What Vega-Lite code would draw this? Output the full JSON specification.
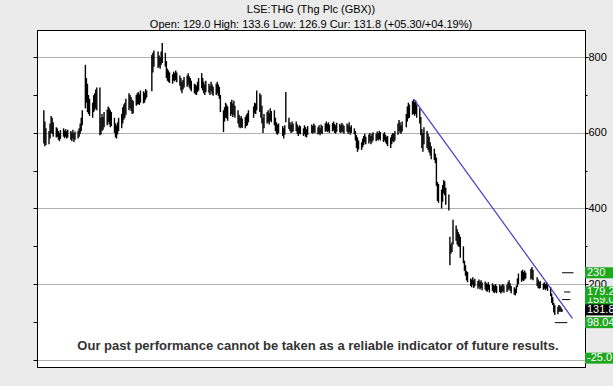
{
"$schema": "https://vega.github.io/schema/vega-lite/v6.json",
"width": 548, "height": 337,
"autosize": {"type": "none"},
"padding": {"left": 37, "top": 30, "right": 28, "bottom": 19},
"background": "#ebebeb",
"config": {"view": {"stroke": "#000", "fill": "#fff", "strokeWidth": 1}, "font": "Liberation Sans"},
"title": {"text": "LSE:THG (Thg Plc (GBX))", "subtitle": "Open: 129.0 High: 133.6 Low: 126.9 Cur: 131.8 (+05.30/+04.19%)", "font": "Liberation Sans", "fontSize": 11, "fontWeight": "normal", "color": "#000", "subtitleFont": "Liberation Sans", "subtitleFontSize": 11, "subtitleColor": "#000", "anchor": "middle", "offset": 0, "subtitlePadding": 4},
"datasets": {
"bars": [
{"d":"2020-09-16","h":660,"l":572},{"d":"2020-09-17","h":630,"l":565},{"d":"2020-09-18","h":612,"l":568},
{"d":"2020-09-21","h":605,"l":570},{"d":"2020-09-22","h":625,"l":585},{"d":"2020-09-23","h":645,"l":600},{"d":"2020-09-24","h":640,"l":598},{"d":"2020-09-25","h":628,"l":590},
{"d":"2020-09-28","h":615,"l":588},{"d":"2020-09-29","h":612,"l":590},{"d":"2020-09-30","h":605,"l":582},{"d":"2020-10-01","h":600,"l":578},{"d":"2020-10-02","h":608,"l":584},
{"d":"2020-10-05","h":612,"l":590},{"d":"2020-10-06","h":606,"l":586},{"d":"2020-10-07","h":610,"l":590},{"d":"2020-10-08","h":604,"l":585},{"d":"2020-10-09","h":608,"l":588},
{"d":"2020-10-12","h":605,"l":582},{"d":"2020-10-13","h":602,"l":578},{"d":"2020-10-14","h":608,"l":585},{"d":"2020-10-15","h":600,"l":576},{"d":"2020-10-16","h":604,"l":582},
{"d":"2020-10-19","h":606,"l":585},{"d":"2020-10-20","h":612,"l":590},{"d":"2020-10-21","h":625,"l":598},{"d":"2020-10-22","h":640,"l":605},{"d":"2020-10-23","h":660,"l":620},
{"d":"2020-10-26","h":780,"l":665},{"d":"2020-10-27","h":745,"l":680},{"d":"2020-10-28","h":730,"l":655},{"d":"2020-10-29","h":700,"l":650},{"d":"2020-10-30","h":690,"l":645},
{"d":"2020-11-02","h":680,"l":640},{"d":"2020-11-03","h":700,"l":655},{"d":"2020-11-04","h":705,"l":660},{"d":"2020-11-05","h":715,"l":665},{"d":"2020-11-06","h":720,"l":660},
{"d":"2020-11-09","h":720,"l":594},{"d":"2020-11-10","h":640,"l":596},{"d":"2020-11-11","h":650,"l":605},{"d":"2020-11-12","h":642,"l":608},{"d":"2020-11-13","h":655,"l":615},
{"d":"2020-11-16","h":662,"l":620},{"d":"2020-11-17","h":670,"l":628},{"d":"2020-11-18","h":665,"l":622},{"d":"2020-11-19","h":660,"l":615},{"d":"2020-11-20","h":655,"l":618},
{"d":"2020-11-23","h":640,"l":600},{"d":"2020-11-24","h":625,"l":588},{"d":"2020-11-25","h":620,"l":585},{"d":"2020-11-26","h":628,"l":596},{"d":"2020-11-27","h":640,"l":605},
{"d":"2020-11-30","h":650,"l":612},{"d":"2020-12-01","h":668,"l":625},{"d":"2020-12-02","h":675,"l":635},{"d":"2020-12-03","h":680,"l":640},{"d":"2020-12-04","h":690,"l":648},
{"d":"2020-12-07","h":705,"l":660},{"d":"2020-12-08","h":700,"l":665},{"d":"2020-12-09","h":695,"l":658},{"d":"2020-12-10","h":688,"l":650},{"d":"2020-12-11","h":685,"l":652},
{"d":"2020-12-14","h":700,"l":672},{"d":"2020-12-15","h":705,"l":675},{"d":"2020-12-16","h":708,"l":676},{"d":"2020-12-17","h":702,"l":674},{"d":"2020-12-18","h":712,"l":680},
{"d":"2020-12-21","h":710,"l":678},{"d":"2020-12-22","h":706,"l":680},{"d":"2020-12-23","h":716,"l":688},{"d":"2020-12-24","h":712,"l":694},
{"d":"2020-12-29","h":806,"l":710},{"d":"2020-12-30","h":812,"l":760},{"d":"2020-12-31","h":818,"l":775},
{"d":"2021-01-04","h":815,"l":772},{"d":"2021-01-05","h":805,"l":775},{"d":"2021-01-06","h":800,"l":770},{"d":"2021-01-07","h":815,"l":780},{"d":"2021-01-08","h":838,"l":785},
{"d":"2021-01-11","h":812,"l":775},{"d":"2021-01-12","h":790,"l":745},{"d":"2021-01-13","h":770,"l":738},{"d":"2021-01-14","h":765,"l":735},{"d":"2021-01-15","h":760,"l":732},
{"d":"2021-01-18","h":755,"l":730},{"d":"2021-01-19","h":762,"l":738},{"d":"2021-01-20","h":758,"l":736},{"d":"2021-01-21","h":765,"l":740},{"d":"2021-01-22","h":760,"l":734},
{"d":"2021-01-25","h":752,"l":725},{"d":"2021-01-26","h":745,"l":712},{"d":"2021-01-27","h":735,"l":705},{"d":"2021-01-28","h":740,"l":715},{"d":"2021-01-29","h":748,"l":720},
{"d":"2021-02-01","h":752,"l":722},{"d":"2021-02-02","h":758,"l":728},{"d":"2021-02-03","h":750,"l":720},{"d":"2021-02-04","h":745,"l":715},{"d":"2021-02-05","h":738,"l":710},
{"d":"2021-02-08","h":730,"l":705},{"d":"2021-02-09","h":728,"l":702},{"d":"2021-02-10","h":725,"l":700},{"d":"2021-02-11","h":735,"l":708},{"d":"2021-02-12","h":745,"l":712},
{"d":"2021-02-15","h":758,"l":718},{"d":"2021-02-16","h":745,"l":712},{"d":"2021-02-17","h":735,"l":705},{"d":"2021-02-18","h":728,"l":700},{"d":"2021-02-19","h":738,"l":708},
{"d":"2021-02-22","h":730,"l":706},{"d":"2021-02-23","h":724,"l":700},{"d":"2021-02-24","h":735,"l":710},{"d":"2021-02-25","h":728,"l":702},{"d":"2021-02-26","h":722,"l":698},
{"d":"2021-03-01","h":730,"l":700},{"d":"2021-03-02","h":735,"l":705},{"d":"2021-03-03","h":728,"l":698},{"d":"2021-03-04","h":722,"l":690},{"d":"2021-03-05","h":700,"l":655},
{"d":"2021-03-08","h":660,"l":602},{"d":"2021-03-09","h":668,"l":630},{"d":"2021-03-10","h":680,"l":640},{"d":"2021-03-11","h":675,"l":638},{"d":"2021-03-12","h":670,"l":632},
{"d":"2021-03-15","h":682,"l":645},{"d":"2021-03-16","h":688,"l":650},{"d":"2021-03-17","h":678,"l":642},{"d":"2021-03-18","h":685,"l":648},{"d":"2021-03-19","h":672,"l":640},
{"d":"2021-03-22","h":660,"l":625},{"d":"2021-03-23","h":648,"l":615},{"d":"2021-03-24","h":640,"l":612},{"d":"2021-03-25","h":645,"l":615},{"d":"2021-03-26","h":638,"l":613},
{"d":"2021-03-29","h":642,"l":612},{"d":"2021-03-30","h":648,"l":618},{"d":"2021-03-31","h":652,"l":620},{"d":"2021-04-01","h":660,"l":628},
{"d":"2021-04-06","h":670,"l":640},{"d":"2021-04-07","h":680,"l":652},{"d":"2021-04-08","h":678,"l":650},{"d":"2021-04-09","h":712,"l":660},
{"d":"2021-04-12","h":705,"l":655},{"d":"2021-04-13","h":700,"l":640},{"d":"2021-04-14","h":672,"l":625},{"d":"2021-04-15","h":640,"l":600},{"d":"2021-04-16","h":650,"l":612},
{"d":"2021-04-19","h":655,"l":625},{"d":"2021-04-20","h":660,"l":628},{"d":"2021-04-21","h":652,"l":622},{"d":"2021-04-22","h":665,"l":632},{"d":"2021-04-23","h":658,"l":628},
{"d":"2021-04-26","h":660,"l":620},{"d":"2021-04-27","h":640,"l":605},{"d":"2021-04-28","h":628,"l":598},{"d":"2021-04-29","h":622,"l":595},{"d":"2021-04-30","h":625,"l":600},
{"d":"2021-05-04","h":618,"l":592},{"d":"2021-05-05","h":612,"l":585},{"d":"2021-05-06","h":620,"l":595},{"d":"2021-05-07","h":708,"l":628},
{"d":"2021-05-10","h":640,"l":610},{"d":"2021-05-11","h":628,"l":605},{"d":"2021-05-12","h":622,"l":600},{"d":"2021-05-13","h":630,"l":602},{"d":"2021-05-14","h":625,"l":604},
{"d":"2021-05-17","h":630,"l":605},{"d":"2021-05-18","h":622,"l":598},{"d":"2021-05-19","h":615,"l":592},{"d":"2021-05-20","h":620,"l":598},{"d":"2021-05-21","h":618,"l":596},
{"d":"2021-05-24","h":612,"l":592},{"d":"2021-05-25","h":620,"l":596},{"d":"2021-05-26","h":615,"l":590},{"d":"2021-05-27","h":610,"l":588},{"d":"2021-05-28","h":618,"l":595},
{"d":"2021-06-01","h":622,"l":600},{"d":"2021-06-02","h":618,"l":598},{"d":"2021-06-03","h":625,"l":602},{"d":"2021-06-04","h":620,"l":600},
{"d":"2021-06-07","h":615,"l":596},{"d":"2021-06-08","h":620,"l":598},{"d":"2021-06-09","h":612,"l":594},{"d":"2021-06-10","h":622,"l":600},{"d":"2021-06-11","h":618,"l":597},
{"d":"2021-06-14","h":625,"l":603},{"d":"2021-06-15","h":630,"l":606},{"d":"2021-06-16","h":624,"l":602},{"d":"2021-06-17","h":628,"l":604},{"d":"2021-06-18","h":622,"l":600},
{"d":"2021-06-21","h":626,"l":604},{"d":"2021-06-22","h":630,"l":606},{"d":"2021-06-23","h":624,"l":600},{"d":"2021-06-24","h":620,"l":598},{"d":"2021-06-25","h":627,"l":603},
{"d":"2021-06-28","h":624,"l":602},{"d":"2021-06-29","h":620,"l":600},{"d":"2021-06-30","h":626,"l":604},{"d":"2021-07-01","h":622,"l":601},{"d":"2021-07-02","h":618,"l":598},
{"d":"2021-07-05","h":625,"l":603},{"d":"2021-07-06","h":620,"l":598},{"d":"2021-07-07","h":628,"l":602},{"d":"2021-07-08","h":615,"l":595},{"d":"2021-07-09","h":620,"l":600},
{"d":"2021-07-12","h":612,"l":596},{"d":"2021-07-13","h":605,"l":580},{"d":"2021-07-14","h":594,"l":560},{"d":"2021-07-15","h":588,"l":550},{"d":"2021-07-16","h":580,"l":556},
{"d":"2021-07-19","h":575,"l":555},{"d":"2021-07-20","h":585,"l":562},{"d":"2021-07-21","h":592,"l":568},{"d":"2021-07-22","h":598,"l":575},{"d":"2021-07-23","h":590,"l":570},
{"d":"2021-07-26","h":596,"l":572},{"d":"2021-07-27","h":600,"l":578},{"d":"2021-07-28","h":592,"l":570},{"d":"2021-07-29","h":598,"l":575},{"d":"2021-07-30","h":602,"l":580},
{"d":"2021-08-02","h":598,"l":578},{"d":"2021-08-03","h":604,"l":582},{"d":"2021-08-04","h":600,"l":580},{"d":"2021-08-05","h":606,"l":584},{"d":"2021-08-06","h":602,"l":580},
{"d":"2021-08-09","h":598,"l":576},{"d":"2021-08-10","h":602,"l":580},{"d":"2021-08-11","h":595,"l":575},{"d":"2021-08-12","h":590,"l":570},{"d":"2021-08-13","h":592,"l":565},
{"d":"2021-08-16","h":588,"l":560},{"d":"2021-08-17","h":595,"l":570},{"d":"2021-08-18","h":600,"l":578},{"d":"2021-08-19","h":598,"l":575},{"d":"2021-08-20","h":605,"l":580},
{"d":"2021-08-23","h":625,"l":595},{"d":"2021-08-24","h":634,"l":605},{"d":"2021-08-25","h":628,"l":600},{"d":"2021-08-26","h":620,"l":598},{"d":"2021-08-27","h":630,"l":604},
{"d":"2021-08-31","h":650,"l":615},{"d":"2021-09-01","h":670,"l":630},{"d":"2021-09-02","h":680,"l":638},{"d":"2021-09-03","h":675,"l":640},
{"d":"2021-09-06","h":684,"l":648},{"d":"2021-09-07","h":688,"l":650},{"d":"2021-09-08","h":682,"l":645},{"d":"2021-09-09","h":686,"l":650},{"d":"2021-09-10","h":675,"l":640},
{"d":"2021-09-13","h":665,"l":625},{"d":"2021-09-14","h":642,"l":594},{"d":"2021-09-15","h":610,"l":560},{"d":"2021-09-16","h":600,"l":550},{"d":"2021-09-17","h":615,"l":570},
{"d":"2021-09-20","h":605,"l":560},{"d":"2021-09-21","h":598,"l":555},{"d":"2021-09-22","h":590,"l":548},{"d":"2021-09-23","h":575,"l":540},{"d":"2021-09-24","h":565,"l":530},
{"d":"2021-09-27","h":558,"l":528},{"d":"2021-09-28","h":545,"l":520},{"d":"2021-09-29","h":535,"l":460},{"d":"2021-09-30","h":470,"l":420},{"d":"2021-10-01","h":465,"l":415},
{"d":"2021-10-04","h":450,"l":400},{"d":"2021-10-05","h":462,"l":418},{"d":"2021-10-06","h":475,"l":440},{"d":"2021-10-07","h":472,"l":435},{"d":"2021-10-08","h":455,"l":410},
{"d":"2021-10-11","h":437,"l":395},{"d":"2021-10-12","h":325,"l":250},{"d":"2021-10-13","h":305,"l":280},{"d":"2021-10-14","h":310,"l":285},{"d":"2021-10-15","h":370,"l":305},
{"d":"2021-10-18","h":355,"l":315},{"d":"2021-10-19","h":345,"l":305},{"d":"2021-10-20","h":338,"l":300},{"d":"2021-10-21","h":332,"l":298},{"d":"2021-10-22","h":325,"l":270},
{"d":"2021-10-25","h":300,"l":255},{"d":"2021-10-26","h":262,"l":235},{"d":"2021-10-27","h":250,"l":222},{"d":"2021-10-28","h":235,"l":210},{"d":"2021-10-29","h":232,"l":205},
{"d":"2021-11-01","h":215,"l":195},{"d":"2021-11-02","h":212,"l":192},{"d":"2021-11-03","h":218,"l":198},{"d":"2021-11-04","h":210,"l":190},{"d":"2021-11-05","h":214,"l":194},
{"d":"2021-11-08","h":208,"l":188},{"d":"2021-11-09","h":212,"l":192},{"d":"2021-11-10","h":206,"l":186},{"d":"2021-11-11","h":210,"l":190},{"d":"2021-11-12","h":204,"l":184},
{"d":"2021-11-15","h":207,"l":186},{"d":"2021-11-16","h":203,"l":182},{"d":"2021-11-17","h":200,"l":180},{"d":"2021-11-18","h":205,"l":185},{"d":"2021-11-19","h":198,"l":178},
{"d":"2021-11-22","h":202,"l":182},{"d":"2021-11-23","h":198,"l":178},{"d":"2021-11-24","h":196,"l":176},{"d":"2021-11-25","h":200,"l":180},{"d":"2021-11-26","h":195,"l":176},
{"d":"2021-11-29","h":199,"l":179},{"d":"2021-11-30","h":194,"l":175},{"d":"2021-12-01","h":197,"l":178},{"d":"2021-12-02","h":200,"l":181},{"d":"2021-12-03","h":196,"l":177},
{"d":"2021-12-06","h":198,"l":179},{"d":"2021-12-07","h":205,"l":184},{"d":"2021-12-08","h":210,"l":188},{"d":"2021-12-09","h":202,"l":182},{"d":"2021-12-10","h":195,"l":176},
{"d":"2021-12-13","h":192,"l":172},{"d":"2021-12-14","h":188,"l":170},{"d":"2021-12-15","h":196,"l":176},{"d":"2021-12-16","h":215,"l":192},{"d":"2021-12-17","h":228,"l":200},
{"d":"2021-12-20","h":235,"l":206},{"d":"2021-12-21","h":238,"l":210},{"d":"2021-12-22","h":232,"l":208},{"d":"2021-12-23","h":236,"l":212},{"d":"2021-12-24","h":230,"l":215},
{"d":"2021-12-29","h":240,"l":212},{"d":"2021-12-30","h":245,"l":214},{"d":"2021-12-31","h":238,"l":210},
{"d":"2022-01-04","h":218,"l":195},{"d":"2022-01-05","h":212,"l":190},{"d":"2022-01-06","h":205,"l":188},{"d":"2022-01-07","h":208,"l":190},
{"d":"2022-01-10","h":202,"l":185},{"d":"2022-01-11","h":205,"l":188},{"d":"2022-01-12","h":200,"l":184},{"d":"2022-01-13","h":206,"l":188},{"d":"2022-01-14","h":198,"l":182},
{"d":"2022-01-17","h":192,"l":168},{"d":"2022-01-18","h":175,"l":150},{"d":"2022-01-19","h":165,"l":145},{"d":"2022-01-20","h":150,"l":125},{"d":"2022-01-21","h":145,"l":118},
{"d":"2022-01-24","h":140,"l":120},{"d":"2022-01-25","h":145,"l":126},{"d":"2022-01-26","h":143,"l":128},{"d":"2022-01-27","h":138,"l":126},{"d":"2022-01-28","h":133.6,"l":126.9}
],
"trend": [{"d":"2021-09-07","v":690},{"d":"2022-02-07","v":109.5}],
"dash": [{"v":230,"a":"2022-01-28","b":"2022-02-08"},{"v":179.2,"a":"2022-01-30","b":"2022-02-05"},{"v":159,"a":"2022-01-28","b":"2022-02-05"},{"v":98.04,"a":"2022-01-21","b":"2022-02-02"}],
"tags": [{"v":230,"t":"230"},{"v":159,"t":"159.0"},{"v":179.2,"t":"179.2"},{"v":98.04,"t":"98.04"},{"v":131.8,"t":"131.8"},{"v":-25,"t":"-25.0"}],
"note": [{"t":"Our past performance cannot be taken as a reliable indicator of future results."}]
},
"layer": [
{"data": {"name": "bars"},
 "mark": {"type": "rule", "color": "#000", "strokeWidth": 1.4},
 "encoding": {
  "x": {"field": "d", "type": "temporal",
   "scale": {"type": "utc", "domain": [{"year":2020,"month":9,"date":9,"hours":10,"utc":true},{"year":2022,"month":2,"date":19,"hours":2,"utc":true}]},
   "axis": {"values": [{"year":2020,"month":10,"date":1,"utc":true},{"year":2021,"month":1,"date":1,"utc":true},{"year":2021,"month":4,"date":1,"utc":true},{"year":2021,"month":7,"date":1,"utc":true},{"year":2021,"month":10,"date":1,"utc":true},{"year":2022,"month":1,"date":1,"utc":true}],
    "format": "%b %y", "formatType": "utc", "title": null, "grid": true, "gridColor": "#b0b0b0", "domainColor": "#000", "tickColor": "#000", "tickSize": 2, "labelFontSize": 11, "labelColor": "#000", "labelPadding": 1, "labelFont": "Liberation Sans"}},
  "y": {"field": "h", "type": "quantitative",
   "scale": {"domain": [-19.3, 872.2], "nice": false, "zero": false},
   "axis": {"orient": "right", "values": [0,100,200,300,400,500,600,700,800], "labelExpr": "datum.value % 200 === 0 ? datum.label : ''", "title": null, "grid": true, "gridColor": "#b0b0b0",
    "gridOpacity": {"condition": {"test": "datum.value % 200 !== 0", "value": 0}, "value": 1},
    "tickSize": {"condition": {"test": "datum.value % 200 !== 0", "value": 2}, "value": 3},
    "tickColor": "#000", "domainColor": "#000", "labelFontSize": 11, "labelColor": "#000", "labelPadding": 0, "labelFont": "Liberation Sans"}},
  "y2": {"field": "l"}
 }},
{"data": {"name": "trend"},
 "mark": {"type": "line", "color": "#3d3dc8", "strokeWidth": 1.2},
 "encoding": {
  "x": {"field": "d", "type": "temporal", "axis": null},
  "y": {"field": "v", "type": "quantitative", "axis": {"orient": "left", "values": [0,100,200,300,400,500,600,700,800], "labels": false, "grid": false, "tickSize": 4, "tickColor": "#000", "domainColor": "#000", "title": null}}
 }},
{"data": {"name": "dash"},
 "mark": {"type": "rule", "color": "#000", "strokeWidth": 1},
 "encoding": {
  "x": {"field": "a", "type": "temporal", "axis": null},
  "x2": {"field": "b"},
  "y": {"field": "v", "type": "quantitative", "axis": null}
 }},
{"data": {"name": "note"},
 "mark": {"type": "text", "font": "Liberation Sans", "fontSize": 13, "fontWeight": "bold", "color": "#333", "align": "center", "baseline": "middle"},
 "encoding": {
  "text": {"field": "t"},
  "x": {"datum": {"year":2021,"month":6,"date":6,"hours":22,"utc":true}, "type": "temporal", "axis": null},
  "y": {"datum": 36, "type": "quantitative", "axis": null}
 }},
{"data": {"name": "tags"},
 "transform": [{"filter": "datum.v === 230 || datum.v === 159"}],
 "mark": {"type": "tick", "orient": "horizontal", "size": 28, "thickness": 11, "xOffset": 14, "color": "#1ea61e", "opacity": 1},
 "encoding": {"x": {"value": "width"}, "y": {"field": "v", "type": "quantitative", "axis": null}}},
{"data": {"name": "tags"},
 "transform": [{"filter": "datum.v === 230 || datum.v === 159"}],
 "mark": {"type": "text", "align": "left", "baseline": "middle", "dx": 2, "fontSize": 11, "color": "#fff", "font": "Liberation Sans"},
 "encoding": {"x": {"value": "width"}, "y": {"field": "v", "type": "quantitative", "axis": null}, "text": {"field": "t"}}},
{"data": {"name": "tags"},
 "transform": [{"filter": "datum.v === 179.2 || datum.v === 98.04"}],
 "mark": {"type": "tick", "orient": "horizontal", "size": 28, "thickness": 11, "xOffset": 14, "color": "#1ea61e", "opacity": 1},
 "encoding": {"x": {"value": "width"}, "y": {"field": "v", "type": "quantitative", "axis": null}}},
{"data": {"name": "tags"},
 "transform": [{"filter": "datum.v === 179.2 || datum.v === 98.04"}],
 "mark": {"type": "text", "align": "left", "baseline": "middle", "dx": 2, "fontSize": 11, "color": "#fff", "font": "Liberation Sans"},
 "encoding": {"x": {"value": "width"}, "y": {"field": "v", "type": "quantitative", "axis": null}, "text": {"field": "t"}}},
{"data": {"name": "tags"},
 "transform": [{"filter": "datum.v === 131.8"}],
 "mark": {"type": "tick", "orient": "horizontal", "size": 28, "thickness": 11, "xOffset": 14, "color": "#000", "opacity": 1},
 "encoding": {"x": {"value": "width"}, "y": {"field": "v", "type": "quantitative", "axis": null}}},
{"data": {"name": "tags"},
 "transform": [{"filter": "datum.v === 131.8"}],
 "mark": {"type": "text", "align": "left", "baseline": "middle", "dx": 2, "fontSize": 11, "color": "#fff", "font": "Liberation Sans"},
 "encoding": {"x": {"value": "width"}, "y": {"field": "v", "type": "quantitative", "axis": null}, "text": {"field": "t"}}},
{"data": {"name": "tags"},
 "transform": [{"filter": "datum.v === -25"}],
 "mark": {"type": "tick", "orient": "horizontal", "size": 28, "thickness": 11, "xOffset": 14, "yOffset": -11, "color": "#1ea61e", "opacity": 1},
 "encoding": {"x": {"value": "width"}, "y": {"field": "v", "type": "quantitative", "axis": null}}},
{"data": {"name": "tags"},
 "transform": [{"filter": "datum.v === -25"}],
 "mark": {"type": "text", "align": "left", "baseline": "middle", "dx": 2, "yOffset": -11, "fontSize": 11, "color": "#fff", "font": "Liberation Sans"},
 "encoding": {"x": {"value": "width"}, "y": {"field": "v", "type": "quantitative", "axis": null}, "text": {"field": "t"}}}
]
}
